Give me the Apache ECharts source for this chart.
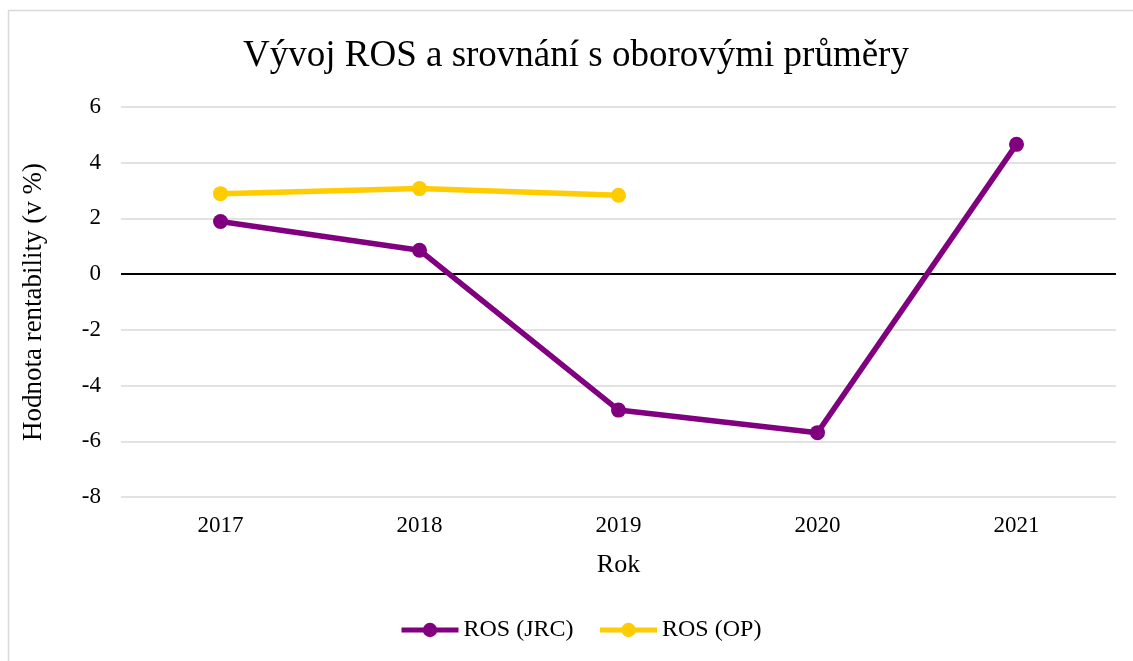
<!DOCTYPE html>
<html>
<head>
<meta charset="utf-8">
<script src="https://cdn.jsdelivr.net/npm/echarts@6/dist/echarts.min.js"></script>
<style>
  html, body { margin: 0; padding: 0; background: #fff; }
  #chart { width: 1133px; height: 661px; }
</style>
</head>
<body>
<div id="chart"></div>
<script>
const years = ["2017", "2018", "2019", "2020", "2021"];
const rosJrc = [1.89, 0.86, -4.88, -5.69, 4.66];
const rosOp = [2.89, 3.07, 2.83, null, null];

const font = "'Liberation Serif', 'Times New Roman', serif";

const chart = echarts.init(document.getElementById("chart"));

chart.setOption({
  backgroundColor: "#fff",
  animation: false,
  textStyle: { fontFamily: font, color: "#000" },
  graphic: [{
    type: "rect",
    left: 6,
    top: 8,
    shape: { width: 1200, height: 800 },
    style: { fill: "none", stroke: "#d9d9d9", lineWidth: 1.5 },
    silent: true
  }],
  title: {
    text: "Vývoj ROS a srovnání s oborovými průměry",
    left: 238,
    top: 33,
    textStyle: { fontFamily: font, fontSize: 37, fontWeight: "normal", color: "#000" }
  },
  legend: {
    bottom: 14,
    left: 394,
    itemWidth: 57,
    itemHeight: 18,
    itemGap: 24,
    lineStyle: { width: 5 },
    textStyle: { fontFamily: font, fontSize: 24, color: "#000" },
    data: ["ROS (JRC)", "ROS (OP)"]
  },
  grid: { left: 121, right: 17, top: 107, bottom: 164 },
  xAxis: {
    type: "category",
    data: years,
    boundaryGap: true,
    name: "Rok",
    nameLocation: "middle",
    nameGap: 55,
    nameTextStyle: { fontFamily: font, fontSize: 26, color: "#000" },
    axisLine: { show: false, onZero: false },
    axisTick: { show: false },
    axisLabel: { fontFamily: font, fontSize: 23, color: "#000", margin: 17 }
  },
  yAxis: {
    type: "value",
    min: -8,
    max: 6,
    interval: 2,
    name: "Hodnota rentability (v %)",
    nameLocation: "middle",
    nameGap: 74,
    nameTextStyle: { fontFamily: font, fontSize: 27, color: "#000" },
    axisLine: { show: false },
    axisTick: { show: false },
    axisLabel: { fontFamily: font, fontSize: 23, color: "#000", margin: 20 },
    splitLine: { lineStyle: { color: "#d9d9d9", width: 1.5 } }
  },
  series: [
    {
      name: "ROS (JRC)",
      type: "line",
      data: rosJrc,
      symbol: "circle",
      symbolSize: 15,
      itemStyle: { color: "#800080" },
      lineStyle: { color: "#800080", width: 5.5 },
      z: 3,
      markLine: {
        silent: true,
        symbol: "none",
        label: { show: false },
        lineStyle: { color: "#000", width: 2, type: "solid" },
        data: [{ yAxis: 0 }],
        z: 1
      }
    },
    {
      name: "ROS (OP)",
      type: "line",
      data: rosOp,
      symbol: "circle",
      symbolSize: 15,
      itemStyle: { color: "#FFCC00" },
      lineStyle: { color: "#FFCC00", width: 5.5 },
      z: 3
    }
  ]
});
</script>
</body>
</html>
